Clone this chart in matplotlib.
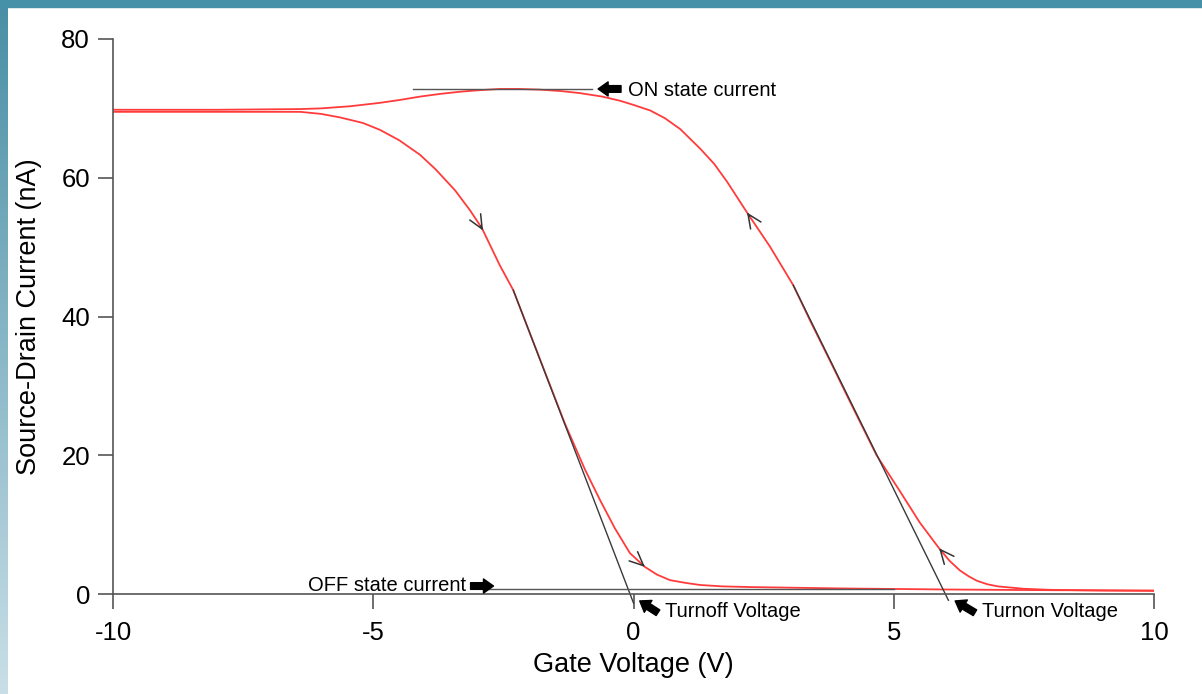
"""
Transfer curve (hysteresis) of a gated device: source-drain current vs gate voltage
"""
import numpy
import matplotlib
matplotlib.use('Agg')
import matplotlib.pyplot as plt
from matplotlib.colors import LinearSegmentedColormap

plt.rcParams['font.family'] = ['Liberation Sans', 'DejaVu Sans']

# sweep towards positive gate voltage (turn off)
sweep_down_v = [-10, -8, -7, -6.4, -6.0, -5.64, -5.2, -4.87, -4.5, -4.1, -3.8,
                -3.43, -3.14, -2.91, -2.57, -2.31, -1.8, -1.32, -0.93, -0.64,
                -0.36, -0.07, 0.22, 0.45, 0.7, 1.0, 1.28, 1.7, 2.24, 4, 6, 8, 10]
sweep_down_i = [69.5, 69.5, 69.5, 69.5, 69.2, 68.7, 67.9, 66.9, 65.4, 63.3, 61.2,
                58.2, 55.3, 52.7, 47.4, 43.8, 33.9, 24.6, 17.9, 13.5,
                9.5, 5.9, 3.9, 2.8, 2.0, 1.6, 1.3, 1.1, 1.0, 0.8, 0.65, 0.55, 0.5]

# sweep back towards negative gate voltage (turn on)
sweep_up_v = [10, 9, 8, 7.5, 7.0, 6.8, 6.6, 6.45, 6.27, 6.07, 5.87, 5.7, 5.5,
              5.12, 4.67, 4.2, 3.77, 3.4, 3.07, 2.62, 2.18, 1.8, 1.55, 1.28,
              0.9, 0.6, 0.32, 0.0, -0.26, -0.6, -1.03, -1.4, -1.8, -2.2, -2.57,
              -3.0, -3.33, -3.7, -4.1, -4.5, -4.87, -5.45, -6.0, -6.4, -8, -10]
sweep_up_i = [0.45, 0.5, 0.6, 0.75, 1.1, 1.4, 1.9, 2.5, 3.4, 4.8, 6.6, 8.3, 10.3,
              14.8, 20, 27.1, 33.7, 39.3, 44.5, 50.1, 55, 59.4, 62.0, 64.2,
              67, 68.6, 69.7, 70.5, 71.1, 71.7, 72.2, 72.5, 72.7, 72.8, 72.8,
              72.6, 72.4, 72.1, 71.7, 71.2, 70.8, 70.3, 70.0, 69.9, 69.8, 69.8]

# tangent lines and level markers
turnoff_v = [-2.31, 0.0]
turnoff_i = [43.8, -1.3]
turnon_v = [3.07, 6.05]
turnon_i = [44.5, -0.9]
on_level_v = [-4.24, -0.8]
on_level_i = [72.8, 72.8]
off_level_v = [-2.9, 5.0]
off_level_i = [0.7, 0.7]

# sweep direction marks (gate voltage)
down_marks = [-2.89, 0.22]
up_marks = [2.18, 5.87]

xticks = [-10, -5, 0, 5, 10]
yticks = [0, 20, 40, 60, 80]

W, H = 1202, 694
fig = plt.figure(figsize=(W/100, H/100), dpi=100)

# slide frame: teal top bar, gradient left bar
fig.patches.append(plt.Rectangle((0, 1 - 7/H), 1, 7/H, transform=fig.transFigure,
                                 color='#4690a8', zorder=0))
bar = fig.add_axes([0, 0, 8/W, 1 - 7/H])
cmap = LinearSegmentedColormap.from_list('bar', ['#4a8fa6', '#c9dfe7'])
bar.imshow(numpy.linspace(0, 1, 256)[:, None], aspect='auto', cmap=cmap)
bar.axis('off')

ax = fig.add_axes([113/W, 100/H, 1041/W, 555/H])
red = '#ff3b3b'
ax.plot(sweep_down_v, sweep_down_i, color=red, lw=1.3)
ax.plot(sweep_up_v, sweep_up_i, color=red, lw=1.3)

line_kw = dict(color='#3a3a3a', lw=1.0, clip_on=False)
ax.plot(turnoff_v, turnoff_i, **line_kw)
ax.plot(turnon_v, turnon_i, **line_kw)
ax.plot(on_level_v, on_level_i, color='#555555', lw=1.0)
ax.plot(off_level_v, off_level_i, color='#555555', lw=1.0)

# open chevrons showing sweep direction
chevron = dict(arrowstyle='->,head_length=1.0,head_width=0.45', color='#333333',
               lw=1.1, shrinkA=0, shrinkB=0)
for v in down_marks:
    i = numpy.interp(v, sweep_down_v, sweep_down_i)
    i0 = numpy.interp(v - 0.05, sweep_down_v, sweep_down_i)
    ax.annotate('', xy=(v, i), xytext=(v - 0.05, i0), arrowprops=chevron)
for v in up_marks:
    i = numpy.interp(v, sweep_up_v[::-1], sweep_up_i[::-1])
    i0 = numpy.interp(v + 0.05, sweep_up_v[::-1], sweep_up_i[::-1])
    ax.annotate('', xy=(v, i), xytext=(v + 0.05, i0), arrowprops=chevron)

# fat pointer arrows with labels
fat = dict(arrowstyle='simple,head_length=0.6,head_width=0.85,tail_width=0.4',
           color='black', shrinkA=0, shrinkB=0, mutation_scale=12)
fs = 14.5
ax.annotate('', xy=(-0.68, 72.8), xytext=(-0.24, 72.8), arrowprops=fat)
ax.text(-0.1, 72.6, 'ON state current', fontsize=fs, va='center', ha='left')
ax.annotate('', xy=(-2.69, 1.15), xytext=(-3.13, 1.15), arrowprops=fat,
            annotation_clip=False)
ax.text(-3.22, 1.2, 'OFF state current', fontsize=fs, va='center', ha='right')
ax.annotate('', xy=(0.12, -1.0), xytext=(0.47, -2.7), arrowprops=fat,
            annotation_clip=False)
ax.text(0.6, -2.5, 'Turnoff Voltage', fontsize=fs, va='center', ha='left')
ax.annotate('', xy=(6.18, -1.0), xytext=(6.56, -2.7), arrowprops=fat,
            annotation_clip=False)
ax.text(6.69, -2.5, 'Turnon Voltage', fontsize=fs, va='center', ha='left')

ax.set_xlim(-10, 10)
ax.set_ylim(0, 80)
ax.set_xticks(xticks)
ax.set_yticks(yticks)
ax.set_xticklabels(['{:d}'.format(t) for t in xticks])
for s in ('top', 'right'):
    ax.spines[s].set_visible(False)
for s in ('left', 'bottom'):
    ax.spines[s].set_color('#555555')
    ax.spines[s].set_linewidth(1.2)
ax.tick_params(direction='out', length=10.5, width=1.2, color='#555555',
               labelsize=18.5)
ax.tick_params(axis='x', pad=9)
ax.tick_params(axis='y', pad=6)
ax.set_xlabel('Gate Voltage (V)', fontsize=19.5)
ax.set_ylabel('Source-Drain Current (nA)', fontsize=19.5)
ax.xaxis.set_label_coords(0.5, -0.105)
ax.yaxis.set_label_coords(-0.068, 0.5)

fig.savefig('out.png', dpi=100)
